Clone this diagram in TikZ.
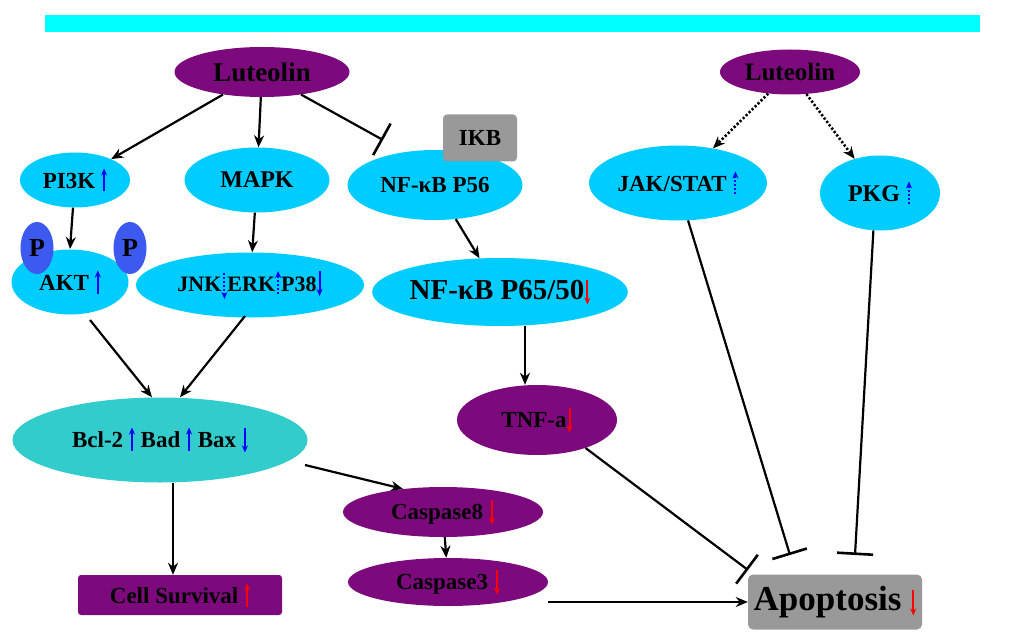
\documentclass[tikz,border=0pt]{standalone}
\usepackage{fontspec}
\setmainfont{Liberation Serif}
\usetikzlibrary{shapes.geometric,arrows.meta}
\definecolor{lut}{RGB}{125,10,125}
\definecolor{sky}{RGB}{0,204,255}
\definecolor{teal2}{RGB}{51,204,204}
\definecolor{pblue}{RGB}{60,90,240}
\definecolor{bar}{RGB}{0,255,255}
\newcommand\fs[1]{\fontsize{#1}{#1}\selectfont\bfseries}
\tikzset{ia/.style={line width=2pt,-{Stealth[length=7pt,width=6pt]}}}
\newcommand\bup{\tikz[baseline=0]\draw[blue,ia](0,-3pt)--(0,20pt);}
\newcommand\bdn{\tikz[baseline=0]\draw[blue,ia](0,20pt)--(0,-5pt);}
\newcommand\dup{\tikz[baseline=0]\draw[blue,ia,dotted](0,-3pt)--(0,20pt);}
\newcommand\ddn{\tikz[baseline=0]\draw[blue,ia,dotted](0,18pt)--(0,-8pt);}
\newcommand\rdn{\tikz[baseline=0]\draw[red,ia](0,20pt)--(0,-5pt);}
\newcommand\rup{\tikz[baseline=0]\draw[red,ia](0,-3pt)--(0,20pt);}
\begin{document}
\begin{tikzpicture}[x=1pt,y=-1pt,
  ell/.style={ellipse,inner sep=0pt,minimum width=#1},
  lut/.style={ell=#1,fill=lut},
  sky/.style={ell=#1,fill=sky},
  arr/.style={-{Stealth[length=12pt,width=10pt]},line width=2.2pt},
  dot/.style={arr,dotted,line width=2.6pt},
  inh/.style={-{Bar[width=36pt,line width=2.6pt]},line width=2.2pt}]
\useasboundingbox (0,0) rectangle (1024,644);
\fill[bar] (45,15) rectangle (980,32);
% nodes
\node[lut=175,minimum height=50] (l1) at (262,72) {\fs{27}Luteolin};
\node[lut=140,minimum height=45] (l2) at (790,72) {\fs{25}Luteolin};
\node[sky=110,minimum height=55] (pi3k) at (75,180) {\fs{23}PI3K \bup};
\node[sky=145,minimum height=65] (mapk) at (257,180) {\fs{24}MAPK};
\node[sky=175,minimum height=70] (nf56) at (435,185) {\fs{23}NF-κB P56};
\node[fill=gray!80,rounded corners=4pt,minimum width=74,minimum height=47] (ikb) at (480,138) {\fs{23}IKB};
\node[sky=117,minimum height=65] (akt) at (70,282) {\fs{23}AKT \bup};
\node[ell=33,minimum height=52,fill=pblue] (p1) at (37,248) {\fs{26}P};
\node[ell=33,minimum height=52,fill=pblue] (p2) at (130,248) {\fs{26}P};
\node[sky=228,minimum height=65] (jnk) at (250,285) {\fs{22}JNK\ddn ERK\dup P38\bdn};
\node[sky=250,minimum height=68] (nf65) at (500,292) {\fs{29}NF-κB P65/50\rdn};
\node[sky=178,minimum height=75] (jak) at (678,183) {\fs{23}JAK/STAT \dup};
\node[sky=120,minimum height=75] (pkg) at (880,193) {\fs{24}PKG \dup};
\node[ell=295,minimum height=85,fill=teal2] (bcl) at (160,440) {\fs{23}Bcl-2 \bup{} Bad \bup{} Bax \bdn};
\node[lut=160,minimum height=70] (tnf) at (537,420) {\fs{23}TNF-a\rdn};
\node[lut=200,minimum height=50] (c8) at (443,512) {\fs{23}Caspase8 \rdn};
\node[lut=200,minimum height=48] (c3) at (448,582) {\fs{23}Caspase3 \rdn};
\node[fill=lut,rounded corners=3pt,minimum width=204,minimum height=40] (cs) at (180,595) {\fs{23}Cell Survival \rup};
\node[fill=gray!80,rounded corners=5pt,minimum width=174,minimum height=55] (apo) at (835,602) {\fs{35}Apoptosis \rdn};
% free ends
\coordinate (t1) at (383,140);
\coordinate (a1) at (748,570);
\coordinate (a2) at (790,555);
\coordinate (a3) at (855,555);
% connectors
\draw[arr] (l1) -- (pi3k);
\draw[arr] (l1) -- (mapk);
\draw[inh] (l1.-30) -- (t1);
\draw[dot] (l2) -- (jak);
\draw[dot] (l2) -- (pkg);
\draw[arr] (pi3k) -- (70,249);
\draw[arr] (mapk) -- (jnk);
\draw[arr] (nf56) -- (nf65);
\draw[arr] (nf65.south -| 525,0) -- (tnf.north -| 525,0);
\draw[arr] (90,320) -- (bcl.north -| 152,0);
\draw[arr] (245,316) -- (bcl.north -| 180,0);
\draw[arr] (305,465) -- (c8.150);
\draw[arr] (bcl.south -| 173,0) -- (cs.north -| 173,0);
\draw[arr] (c8) -- (c3);
\draw[arr] (c3.east |- 0,602) -- (apo.west |- 0,602);
\draw[inh] (tnf.-30) -- (a1);
\draw[inh] (jak.-75) -- (a2);
\draw[inh] (pkg.-100) -- (a3);
\end{tikzpicture}
\end{document}
